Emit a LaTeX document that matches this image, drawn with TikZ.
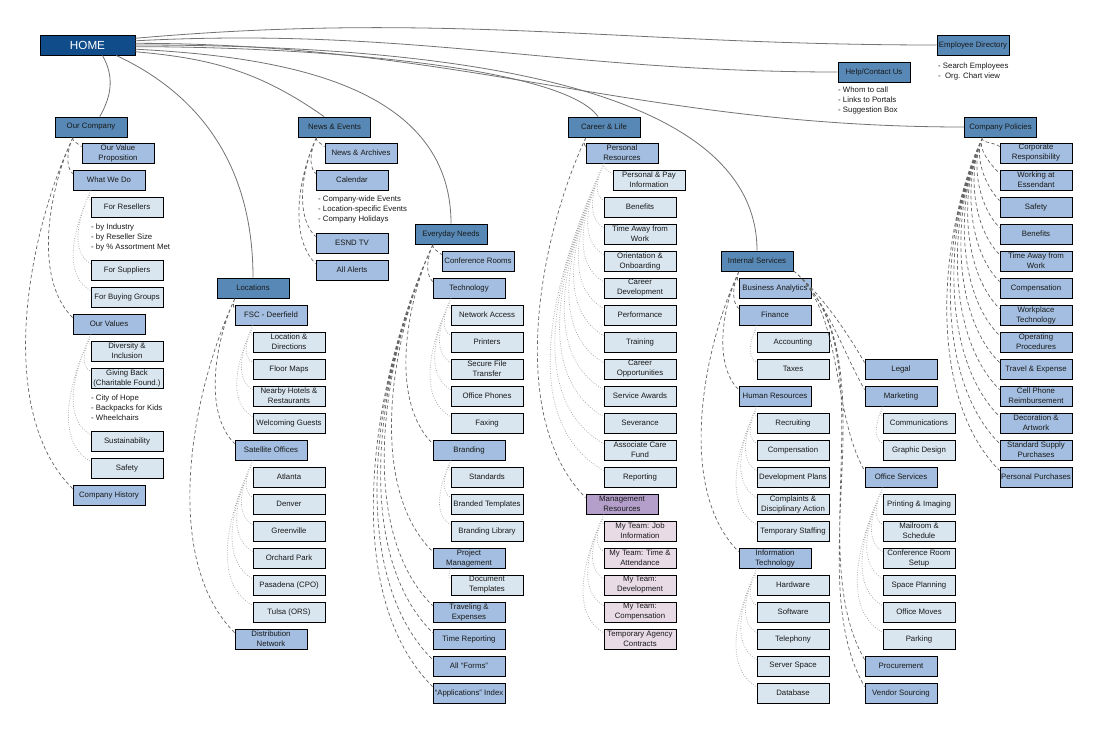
\documentclass[tikz,border=0pt]{standalone}
\usepackage{fontspec}
\setmainfont{Liberation Sans}
\definecolor{homeblue}{RGB}{16,76,138}
\definecolor{topblue}{RGB}{88,137,182}
\definecolor{midblue}{RGB}{163,190,224}
\definecolor{leafblue}{RGB}{217,230,240}
\definecolor{mgrpurple}{RGB}{180,159,203}
\definecolor{mgrpink}{RGB}{232,219,230}

\begin{document}
\begin{tikzpicture}[x=1pt,y=-1pt,
  box/.style={draw=black, line width=0.9pt, minimum width=72pt, minimum height=20pt,
    inner sep=0.5pt, align=center, text=black!90, font=\fontsize{7.8}{10}\selectfont},
  topbox/.style={box, fill=topblue},
  midbox/.style={box, fill=midblue},
  leafbox/.style={box, fill=leafblue},
  mgrbox/.style={box, fill=mgrpurple},
  mgrleaf/.style={box, fill=mgrpink},
  note/.style={anchor=north west, align=left, inner sep=0pt, text=black!90,
    font=\fontsize{7.8}{10}\selectfont},
  mainlink/.style={draw=black!55, line width=0.8pt},
  sublink/.style={draw=black!60, line width=0.7pt, dash pattern=on 3.5pt off 2.5pt,
    out=-115, in=135, looseness=0.8},
  leaflink/.style={draw=black!35, line width=0.7pt, dash pattern=on 0.8pt off 1.6pt,
    out=-115, in=150, looseness=0.9}]
\fill[white] (0,0) rectangle (1100,750);
\useasboundingbox (0,0) rectangle (1100,750);

% home and the main sections
\node[box, fill=homeblue, text=white, minimum width=95pt, font=\fontsize{11.7}{13}\selectfont] (home) at (87.5,45) {HOME};
\node[topbox] (ed) at (973,45) {Employee Directory};
\node[note] (ednote) at (938,63) {- Search Employees\\-~~Org. Chart view};
\node[topbox] (help) at (874,72) {Help/Contact Us};
\node[note] (helpnote) at (838,87) {- Whom to call\\- Links to Portals\\- Suggestion Box};
\node[topbox] (oc) at (91,127) {Our Company};
\node[topbox] (ne) at (334.5,127) {News \& Events};
\node[topbox] (cl) at (604,127) {Career \& Life};
\node[topbox] (cp) at (1000.5,127) {Company Policies};
\node[topbox] (en) at (451,234) {Everyday Needs};
\node[topbox] (is) at (757,261) {Internal Services};
\node[topbox] (loc) at (253,288) {Locations};

% our company
\node[midbox] (ovp) at (118,153) {Our Value\\Proposition};
\node[midbox] (wwd) at (109,180) {What We Do};
\node[leafbox] (fres) at (127,207) {For Resellers};
\node[note] (rsnote) at (91,224) {- by Industry\\- by Reseller Size\\- by \% Assortment Met};
\node[leafbox] (fsup) at (127,270) {For Suppliers};
\node[leafbox] (fbg) at (127,297) {For Buying Groups};
\node[midbox] (ov) at (109,324) {Our Values};
\node[leafbox] (divi) at (127,351) {Diversity \&\\Inclusion};
\node[leafbox] (give) at (127,378) {Giving Back\\(Charitable Found.)};
\node[note] (givenote) at (91,395) {- City of Hope\\- Backpacks for Kids\\- Wheelchairs};
\node[leafbox] (sust) at (127,441) {Sustainability};
\node[leafbox] (safe) at (127,468) {Safety};
\node[midbox] (ch) at (109,495) {Company History};

% locations
\node[midbox] (fsc) at (271,315) {FSC - Deerfield};
\node[leafbox] (locdir) at (289,342) {Location \&\\Directions};
\node[leafbox] (floor) at (289,369) {Floor Maps};
\node[leafbox] (hotels) at (289,396) {Nearby Hotels \&\\Restaurants};
\node[leafbox] (guests) at (289,423) {Welcoming Guests};
\node[midbox] (sat) at (271,450) {Satellite Offices};
\node[leafbox] (atl) at (289,477) {Atlanta};
\node[leafbox] (den) at (289,504) {Denver};
\node[leafbox] (gre) at (289,531) {Greenville};
\node[leafbox] (orp) at (289,558) {Orchard Park};
\node[leafbox] (pas) at (289,585) {Pasadena (CPO)};
\node[leafbox] (tul) at (289,612) {Tulsa (ORS)};
\node[midbox] (dist) at (271,639) {Distribution\\Network};

% news and events
\node[midbox] (arch) at (361,153) {News \& Archives};
\node[midbox] (cal) at (352,180) {Calendar};
\node[note] (calnote) at (318,196) {- Company-wide Events\\- Location-specific Events\\- Company Holidays};
\node[midbox] (esnd) at (352,243) {ESND TV};
\node[midbox] (alerts) at (352,270) {All Alerts};

% everyday needs
\node[midbox] (conf) at (478,261) {Conference Rooms};
\node[midbox] (tech) at (469,288) {Technology};
\node[leafbox] (net) at (487,315) {Network Access};
\node[leafbox] (print) at (487,342) {Printers};
\node[leafbox] (sft) at (487,369) {Secure File\\Transfer};
\node[leafbox] (phones) at (487,396) {Office Phones};
\node[leafbox] (fax) at (487,423) {Faxing};
\node[midbox] (brand) at (469,450) {Branding};
\node[leafbox] (std) at (487,477) {Standards};
\node[leafbox] (btmp) at (487,504) {Branded Templates};
\node[leafbox] (blib) at (487,531) {Branding Library};
\node[midbox] (pm) at (469,558) {Project\\Management};
\node[leafbox] (doct) at (487,585) {Document\\Templates};
\node[midbox] (trav) at (469,612) {Traveling \&\\Expenses};
\node[midbox] (time) at (469,639) {Time Reporting};
\node[midbox] (forms) at (469,666) {All “Forms”};
\node[midbox] (apps) at (469,693) {“Applications” Index};

% career and life
\node[midbox] (pr) at (622,153) {Personal\\Resources};
\node[leafbox] (ppi) at (649,180) {Personal \& Pay\\Information};
\node[leafbox] (ben) at (640,207) {Benefits};
\node[leafbox] (taw) at (640,234) {Time Away from\\Work};
\node[leafbox] (ori) at (640,261) {Orientation \&\\Onboarding};
\node[leafbox] (cdev) at (640,288) {Career\\Development};
\node[leafbox] (perf) at (640,315) {Performance};
\node[leafbox] (train) at (640,342) {Training};
\node[leafbox] (copp) at (640,369) {Career\\Opportunities};
\node[leafbox] (saw) at (640,396) {Service Awards};
\node[leafbox] (sev) at (640,423) {Severance};
\node[leafbox] (acf) at (640,450) {Associate Care\\Fund};
\node[leafbox] (rep) at (640,477) {Reporting};
\node[mgrbox] (mr) at (622,504) {Management\\Resources};
\node[mgrleaf] (jobi) at (640,531) {My Team: Job\\Information};
\node[mgrleaf] (tatt) at (640,558) {My Team: Time \&\\Attendance};
\node[mgrleaf] (tdev) at (640,585) {My Team:\\Development};
\node[mgrleaf] (tcomp) at (640,612) {My Team:\\Compensation};
\node[mgrleaf] (tac) at (640,639) {Temporary Agency\\Contracts};

% internal services
\node[midbox] (ba) at (775,288) {Business Analytics};
\node[midbox] (fin) at (775,315) {Finance};
\node[leafbox] (acct) at (793,342) {Accounting};
\node[leafbox] (tax) at (793,369) {Taxes};
\node[midbox] (hr) at (775,396) {Human Resources};
\node[leafbox] (recr) at (793,423) {Recruiting};
\node[leafbox] (comp) at (793,450) {Compensation};
\node[leafbox] (devp) at (793,477) {Development Plans};
\node[leafbox] (compl) at (793,504) {Complaints \&\\Disciplinary Action};
\node[leafbox] (tstaff) at (793,531) {Temporary Staffing};
\node[midbox] (it) at (775,558) {Information\\Technology};
\node[leafbox] (hw) at (793,585) {Hardware};
\node[leafbox] (sw) at (793,612) {Software};
\node[leafbox] (tel) at (793,639) {Telephony};
\node[leafbox] (srv) at (793,666) {Server Space};
\node[leafbox] (db) at (793,693) {Database};
\node[midbox] (legal) at (901,369) {Legal};
\node[midbox] (mkt) at (901,396) {Marketing};
\node[leafbox] (comm) at (919,423) {Communications};
\node[leafbox] (gdes) at (919,450) {Graphic Design};
\node[midbox] (os) at (901,477) {Office Services};
\node[leafbox] (prt) at (919,504) {Printing \& Imaging};
\node[leafbox] (mail) at (919,531) {Mailroom \&\\Schedule};
\node[leafbox] (crs) at (919,558) {Conference Room\\Setup};
\node[leafbox] (space) at (919,585) {Space Planning};
\node[leafbox] (moves) at (919,612) {Office Moves};
\node[leafbox] (park) at (919,639) {Parking};
\node[midbox] (proc) at (901,666) {Procurement};
\node[midbox] (vend) at (901,693) {Vendor Sourcing};

% company policies
\node[midbox] (corp) at (1036,153) {Corporate\\Responsibility};
\node[midbox] (work) at (1036,180) {Working at\\Essendant};
\node[midbox] (psafe) at (1036,207) {Safety};
\node[midbox] (pben) at (1036,234) {Benefits};
\node[midbox] (ptaw) at (1036,261) {Time Away from\\Work};
\node[midbox] (pcomp) at (1036,288) {Compensation};
\node[midbox] (wtech) at (1036,315) {Workplace\\Technology};
\node[midbox] (oproc) at (1036,342) {Operating\\Procedures};
\node[midbox] (trex) at (1036,369) {Travel \& Expense};
\node[midbox] (cell) at (1036,396) {Cell Phone\\Reimbursement};
\node[midbox] (deco) at (1036,423) {Decoration \&\\Artwork};
\node[midbox] (ssp) at (1036,450) {Standard Supply\\Purchases};
\node[midbox] (pp) at (1036,477) {Personal Purchases};

% links from home
\draw[mainlink] (home.-35) to[out=-60,in=60] (oc.50);
\draw[mainlink] (home.-20) to[out=-25,in=90] (loc.north);
\draw[mainlink] (home.-8) to[out=-5,in=145] (ne.135);
\draw[mainlink] (home.-5) to[out=-3,in=90] (en.north);
\draw[mainlink] (home.-2) to[out=0,in=125,in distance=60pt] (cl.120);
\draw[mainlink] (home.0) to[out=0,in=90,out distance=300pt,in distance=170pt] (is.north);
\draw[mainlink] (home.2) to[out=0,in=180] (cp.west);
\draw[mainlink] (home.5) to[out=3,in=180] (help.west);
\draw[mainlink] (home.8) to[out=5,in=180] (ed.west);

% section links
\draw[sublink] (oc.-150) to (ovp.170) (oc.-150) to (wwd.170) (oc.-150) to (ov.170) (oc.-150) to (ch.170);
\draw[sublink] (loc.-150) to (fsc.170) (loc.-150) to (sat.170) (loc.-150) to (dist.170);
\draw[sublink] (ne.-150) to (arch.170) (ne.-150) to (cal.170) (ne.-150) to (esnd.170) (ne.-150) to (alerts.170);
\draw[sublink] (en.-150) to (conf.170) (en.-150) to (tech.170) (en.-150) to (brand.170) (en.-150) to (pm.170)
  (en.-150) to (trav.170) (en.-150) to (time.170) (en.-150) to (forms.170) (en.-150) to (apps.170);
\draw[sublink] (cl.-150) to (pr.170) (cl.-150) to (mr.170);
\draw[sublink] (is.-150) to (ba.170) (is.-150) to (fin.170) (is.-150) to (hr.170) (is.-150) to (it.170);
\draw[sublink, out=-40, in=120] (is.-15) to (legal.170) (is.-15) to (mkt.170) (is.-15) to (os.170)
  (is.-15) to (proc.170) (is.-15) to (vend.170);
\draw[sublink] (cp.-150) to (corp.170) (cp.-150) to (work.170) (cp.-150) to (psafe.170) (cp.-150) to (pben.170)
  (cp.-150) to (ptaw.170) (cp.-150) to (pcomp.170) (cp.-150) to (wtech.170) (cp.-150) to (oproc.170)
  (cp.-150) to (trex.170) (cp.-150) to (cell.170) (cp.-150) to (deco.170) (cp.-150) to (ssp.170)
  (cp.-150) to (pp.170);

% page links
\draw[leaflink] (wwd.-150) to (fres.170) (wwd.-150) to (fsup.170) (wwd.-150) to (fbg.170);
\draw[leaflink] (ov.-150) to (divi.170) (ov.-150) to (give.170) (ov.-150) to (sust.170) (ov.-150) to (safe.170);
\draw[leaflink] (fsc.-150) to (locdir.170) (fsc.-150) to (floor.170) (fsc.-150) to (hotels.170) (fsc.-150) to (guests.170);
\draw[leaflink] (sat.-150) to (atl.170) (sat.-150) to (den.170) (sat.-150) to (gre.170) (sat.-150) to (orp.170)
  (sat.-150) to (pas.170) (sat.-150) to (tul.170);
\draw[leaflink] (tech.-150) to (net.170) (tech.-150) to (print.170) (tech.-150) to (sft.170) (tech.-150) to (phones.170)
  (tech.-150) to (fax.170);
\draw[leaflink] (brand.-150) to (std.170) (brand.-150) to (btmp.170) (brand.-150) to (blib.170);
\draw[leaflink] (pm.-150) to (doct.170);
\draw[leaflink] (pr.-150) to (ppi.170) (pr.-150) to (ben.170) (pr.-150) to (taw.170) (pr.-150) to (ori.170)
  (pr.-150) to (cdev.170) (pr.-150) to (perf.170) (pr.-150) to (train.170) (pr.-150) to (copp.170)
  (pr.-150) to (saw.170) (pr.-150) to (sev.170) (pr.-150) to (acf.170) (pr.-150) to (rep.170);
\draw[leaflink] (mr.-150) to (jobi.170) (mr.-150) to (tatt.170) (mr.-150) to (tdev.170) (mr.-150) to (tcomp.170)
  (mr.-150) to (tac.170);
\draw[leaflink] (fin.-150) to (acct.170) (fin.-150) to (tax.170);
\draw[leaflink] (hr.-150) to (recr.170) (hr.-150) to (comp.170) (hr.-150) to (devp.170) (hr.-150) to (compl.170)
  (hr.-150) to (tstaff.170);
\draw[leaflink] (it.-150) to (hw.170) (it.-150) to (sw.170) (it.-150) to (tel.170) (it.-150) to (srv.170)
  (it.-150) to (db.170);
\draw[leaflink] (mkt.-150) to (comm.170) (mkt.-150) to (gdes.170);
\draw[leaflink] (os.-150) to (prt.170) (os.-150) to (mail.170) (os.-150) to (crs.170) (os.-150) to (space.170)
  (os.-150) to (moves.170) (os.-150) to (park.170);
\end{tikzpicture}
\end{document}
